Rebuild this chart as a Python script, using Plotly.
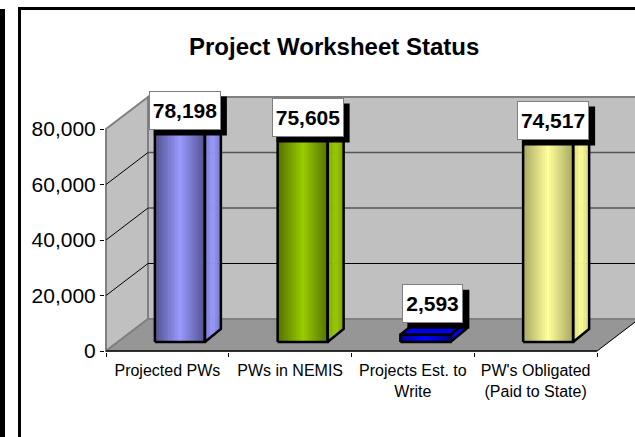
import plotly.graph_objects as go

# ---- data ----
categories = ["Projected PWs", "PWs in NEMIS", "Projects Est. to<br>Write", "PW's Obligated<br>(Paid to State)"]
values = [78198, 75605, 2593, 74517]
value_labels = ["78,198", "75,605", "2,593", "74,517"]
y_ticks = [0, 20000, 40000, 60000, 80000]
y_tick_labels = ["0", "20,000", "40,000", "60,000", "80,000"]
title = "Project Worksheet Status"

# ---- styles ----
edge_colors = ["#52528F", "#557200", "#000090", "#A8A864"]
mid_colors = ["#9999FF", "#99CC00", "#0000FF", "#FFFF99"]

W, H = 635, 437
L, R, T, B = 105, 635, 60, 352          # plot rectangle, page pixels
X0_PX, Y0_PX = 106, 351                 # origin of the front plane
PX_PER_CAT, PX_PER_UNIT = 122.75, 222 / 80000
WALL_DX, WALL_DY = 42, 32
BAR_DX, BAR_DY, BAR_W = 12.5, 9, 50
SIDE_DX, SIDE_DY = 16, 13
SLICES = 25
SIDE_SLICES = 6
BOX_W = [72, 72, 61, 72]
BOX_H = 39
BOX_DX = [5, 5, 7.5, 5]
BOX_DY = [-14.5, -14.7, -31, -14.7]


def xu(px):  # horizontal pixel length -> x units
    return px / PX_PER_CAT


def yu(px):  # vertical pixel length -> y units
    return px / PX_PER_UNIT


def mix(a, b, t):
    ca = [int(a[i:i + 2], 16) for i in (1, 3, 5)]
    cb = [int(b[i:i + 2], 16) for i in (1, 3, 5)]
    return "rgb(%d,%d,%d)" % tuple(round(p + (q - p) * t) for p, q in zip(ca, cb))


n = len(categories)
wx, wy = xu(WALL_DX), yu(WALL_DY)
x_max = xu(R - X0_PX)
y_min, y_max = yu(Y0_PX - B), yu(Y0_PX - T)
right_end = xu(640)

shapes = []
GREY = "#808080"


def poly(pts, fill, line=GREY, width=2, layer="below", xref="x", yref="y"):
    path = "M" + "L".join(f"{a},{b}" for a, b in pts) + "Z"
    shapes.append(dict(type="path", path=path, fillcolor=fill, xref=xref, yref=yref,
                       line=dict(color=line, width=width), layer=layer))


top = y_ticks[-1]
# back wall, side wall, floor
poly([(wx, wy), (right_end, wy), (right_end, wy + top), (wx, wy + top)], "#C0C0C0")
poly([(0, 0), (wx, wy), (wx, wy + top), (0, top)], "#C0C0C0")
poly([(0, 0), (n, 0), (n + wx, wy), (wx, wy)], "#969696", line="#969696", width=1)
# wall edges drawn over the floor
shapes.append(dict(type="line", x0=wx, x1=right_end, y0=wy, y1=wy, xref="x", yref="y",
                   line=dict(color=GREY, width=2), layer="below"))
shapes.append(dict(type="line", x0=0, x1=wx, y0=0, y1=wy, xref="x", yref="y",
                   line=dict(color=GREY, width=2), layer="below"))
# floor's right edge
shapes.append(dict(type="line", x0=n, x1=n + wx, y0=0, y1=wy, xref="x", yref="y",
                   line=dict(color="#000000", width=1), layer="below"))
# gridlines
for t in y_ticks[1:-1]:
    back_col = "#000000" if t == 20000 else "#555555"
    shapes.append(dict(type="line", x0=0, x1=wx, y0=t, y1=t + wy, xref="x", yref="y",
                       line=dict(color="#000000", width=1), layer="below"))
    shapes.append(dict(type="line", x0=wx, x1=right_end, y0=t + wy, y1=t + wy, xref="x", yref="y",
                       line=dict(color=back_col, width=1 if t == 20000 else 1.5), layer="below"))
# front axis line
shapes.append(dict(type="line", x0=0, x1=n, y0=0, y1=0, xref="x", yref="y",
                   line=dict(color="#000000", width=1.5), layer="below"))

fig = go.Figure()
base = yu(BAR_DY)
bw, sdx, sdy = xu(BAR_W), xu(SIDE_DX), yu(SIDE_DY)
bar_left = [i + 0.5 + xu(BAR_DX) - bw / 2 for i in range(n)]

# front faces: a bar per colour band, so the shading runs across the column
for i, v in enumerate(values):
    xs, cols = [], []
    for s in range(SLICES):
        f = (s + 0.5) / SLICES
        xs.append(bar_left[i] + bw * f)
        cols.append(mix(edge_colors[i], mid_colors[i], 1 - abs(2 * f - 1)))
    fig.add_trace(go.Bar(x=xs, y=[v] * SLICES, base=base, width=bw / SLICES,
                         marker=dict(color=cols, line=dict(width=0)), showlegend=False,
                         hoverinfo="skip"))

# side and top faces, outlines
for i, v in enumerate(values):
    x0, x1 = bar_left[i], bar_left[i] + bw
    b0, b1 = base, base + v
    for s in range(SIDE_SLICES):
        f0, f1 = s / SIDE_SLICES, (s + 1) / SIDE_SLICES
        fm = (f0 + f1) / 2
        col = mix(edge_colors[i], mid_colors[i], 1 - 0.45 * abs(2 * fm - 1))
        fig.add_trace(go.Scatter(
            x=[x1 + sdx * f0, x1 + sdx * f1, x1 + sdx * f1, x1 + sdx * f0, x1 + sdx * f0],
            y=[b0 + sdy * f0, b0 + sdy * f1, b1 + sdy * f1, b1 + sdy * f0, b0 + sdy * f0],
            mode="lines", fill="toself", fillcolor=col, line=dict(color=col, width=0.5),
            showlegend=False, hoverinfo="skip"))
    fig.add_trace(go.Scatter(x=[x1, x1 + sdx, x1 + sdx, x1, x1], y=[b0, b0 + sdy, b1 + sdy, b1, b0],
                             mode="lines", line=dict(color="#000000", width=2.5),
                             showlegend=False, hoverinfo="skip"))
    fig.add_trace(go.Scatter(x=[x0, x1, x1 + sdx, x0 + sdx, x0], y=[b1, b1, b1 + sdy, b1 + sdy, b1],
                             mode="lines", fill="toself", fillcolor=mix(edge_colors[i], mid_colors[i], 0.85),
                             line=dict(color="#000000", width=2.5), showlegend=False, hoverinfo="skip"))
    fig.add_trace(go.Scatter(x=[x0, x1, x1, x0, x0], y=[b0, b0, b1, b1, b0], mode="lines",
                             line=dict(color="#000000", width=2.5), showlegend=False, hoverinfo="skip"))

# data labels with hard shadows
annotations = []
for i, v in enumerate(values):
    cx = bar_left[i] + bw / 2 + xu(BOX_DX[i])
    cy = base + v - yu(BOX_DY[i])
    hw, hh = xu(BOX_W[i] / 2), yu(BOX_H / 2)
    shapes.append(dict(type="rect", xref="x", yref="y", layer="above",
                       x0=cx - hw + xu(5), x1=cx + hw + xu(6),
                       y0=cy - hh - yu(5.5), y1=cy + hh - yu(5.5),
                       fillcolor="#000000", line=dict(width=0)))
    annotations.append(dict(x=cx, y=cy, xref="x", yref="y", text=value_labels[i], showarrow=False,
                            font=dict(family="Liberation Sans", size=21, color="#000000", weight="bold"),
                            bgcolor="#FFFFFF", bordercolor="#808080", borderwidth=1, borderpad=0,
                            width=BOX_W[i] - 2, height=BOX_H - 2, align="center", valign="middle"))


# chart frame, in page pixels
def px_x(p):
    return (p - L) / (R - L)


def px_y(p):
    return (B - p) / (B - T)


for x0, x1, y0, y1 in [(18, 21, 7, H + 5), (18, W + 5, 7, 10), (0, 5, 9, H + 5)]:
    shapes.append(dict(type="rect", xref="paper", yref="paper", layer="above",
                       x0=px_x(x0), x1=px_x(x1), y0=px_y(y0), y1=px_y(y1),
                       fillcolor="#000000", line=dict(width=0)))

annotations.append(dict(xref="paper", yref="paper", x=px_x(333.5), y=px_y(47), text=title, showarrow=False,
                        xanchor="center", yanchor="middle",
                        font=dict(family="Liberation Sans", size=24, color="#000000", weight="bold")))

fig.update_layout(
    width=W, height=H, margin=dict(l=L, r=W - R, t=T, b=H - B, pad=0, autoexpand=False),
    paper_bgcolor="#FFFFFF", plot_bgcolor="#FFFFFF", barmode="overlay", bargap=0,
    showlegend=False, shapes=shapes, annotations=annotations,
    xaxis=dict(range=[xu(L - X0_PX), x_max], tickmode="array",
               tickvals=[i + 0.5 for i in range(n)], ticktext=categories, ticks="",
               ticklabelstandoff=7,
               showgrid=False, zeroline=False, showline=False,
               tickfont=dict(family="Liberation Sans", size=16, color="#000000"),
               minor=dict(tickmode="array", tickvals=list(range(n + 1)), ticks="outside",
                          ticklen=4, tickwidth=1, tickcolor="#000000", showgrid=False)),
    yaxis=dict(range=[y_min, y_max], tickmode="array", tickvals=y_ticks, ticktext=y_tick_labels,
               ticks="outside", ticklen=4, tickwidth=1, tickcolor="#000000",
               showgrid=False, zeroline=False, showline=False,
               tickfont=dict(family="Liberation Sans", size=21, color="#000000")),
)

fig.write_html("out.html", config={"displayModeBar": False},
               post_script="document.body.style.margin='0';document.body.style.overflow='hidden';")
